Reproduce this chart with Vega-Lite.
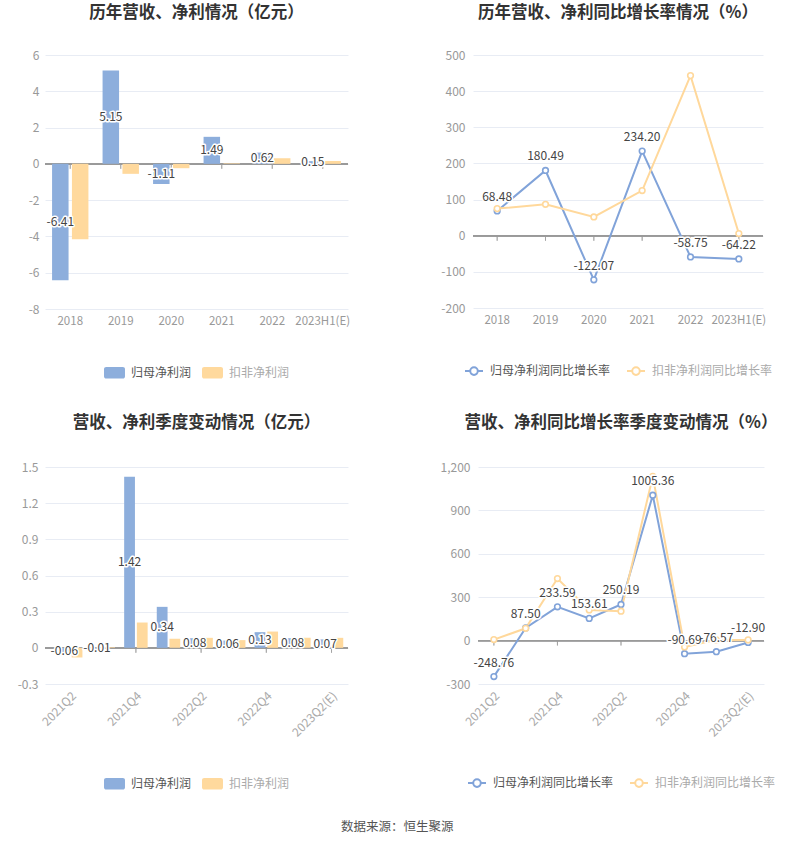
{
  "$schema": "https://vega.github.io/schema/vega-lite/v6.json",
  "background": "white",
  "padding": {"left": 17, "top": 4, "right": 5, "bottom": 8},
  "datasets": {
    "annual": [
      {"cat": "2018", "s": "归母净利润", "v": -6.41},
      {"cat": "2019", "s": "归母净利润", "v": 5.15},
      {"cat": "2020", "s": "归母净利润", "v": -1.11},
      {"cat": "2021", "s": "归母净利润", "v": 1.49},
      {"cat": "2022", "s": "归母净利润", "v": 0.62},
      {"cat": "2023H1(E)", "s": "归母净利润", "v": 0.15},
      {"cat": "2018", "s": "扣非净利润", "v": -4.16},
      {"cat": "2019", "s": "扣非净利润", "v": -0.55},
      {"cat": "2020", "s": "扣非净利润", "v": -0.24},
      {"cat": "2021", "s": "扣非净利润", "v": 0.03},
      {"cat": "2022", "s": "扣非净利润", "v": 0.31},
      {"cat": "2023H1(E)", "s": "扣非净利润", "v": 0.16}
    ],
    "annualGrowth": [
      {"cat": "2018", "s": "归母净利润同比增长率", "v": 68.48},
      {"cat": "2019", "s": "归母净利润同比增长率", "v": 180.49},
      {"cat": "2020", "s": "归母净利润同比增长率", "v": -122.07},
      {"cat": "2021", "s": "归母净利润同比增长率", "v": 234.2},
      {"cat": "2022", "s": "归母净利润同比增长率", "v": -58.75},
      {"cat": "2023H1(E)", "s": "归母净利润同比增长率", "v": -64.22},
      {"cat": "2018", "s": "扣非净利润同比增长率", "v": 75},
      {"cat": "2019", "s": "扣非净利润同比增长率", "v": 87},
      {"cat": "2020", "s": "扣非净利润同比增长率", "v": 52},
      {"cat": "2021", "s": "扣非净利润同比增长率", "v": 125},
      {"cat": "2022", "s": "扣非净利润同比增长率", "v": 443},
      {"cat": "2023H1(E)", "s": "扣非净利润同比增长率", "v": 6}
    ],
    "quarter": [
      {"cat": "2021Q2", "s": "归母净利润", "v": -0.06},
      {"cat": "2021Q3", "s": "归母净利润", "v": -0.01},
      {"cat": "2021Q4", "s": "归母净利润", "v": 1.42},
      {"cat": "2022Q1", "s": "归母净利润", "v": 0.34},
      {"cat": "2022Q2", "s": "归母净利润", "v": 0.08},
      {"cat": "2022Q3", "s": "归母净利润", "v": 0.06},
      {"cat": "2022Q4", "s": "归母净利润", "v": 0.13},
      {"cat": "2023Q1", "s": "归母净利润", "v": 0.08},
      {"cat": "2023Q2(E)", "s": "归母净利润", "v": 0.07},
      {"cat": "2021Q2", "s": "扣非净利润", "v": -0.08},
      {"cat": "2021Q3", "s": "扣非净利润", "v": 0.005},
      {"cat": "2021Q4", "s": "扣非净利润", "v": 0.21},
      {"cat": "2022Q1", "s": "扣非净利润", "v": 0.075},
      {"cat": "2022Q2", "s": "扣非净利润", "v": 0.083},
      {"cat": "2022Q3", "s": "扣非净利润", "v": 0.064},
      {"cat": "2022Q4", "s": "扣非净利润", "v": 0.135},
      {"cat": "2023Q1", "s": "扣非净利润", "v": 0.083},
      {"cat": "2023Q2(E)", "s": "扣非净利润", "v": 0.083}
    ],
    "quarterGrowth": [
      {"cat": "2021Q2", "s": "归母净利润同比增长率", "v": -248.76},
      {"cat": "2021Q3", "s": "归母净利润同比增长率", "v": 87.5},
      {"cat": "2021Q4", "s": "归母净利润同比增长率", "v": 233.59},
      {"cat": "2022Q1", "s": "归母净利润同比增长率", "v": 153.61},
      {"cat": "2022Q2", "s": "归母净利润同比增长率", "v": 250.19},
      {"cat": "2022Q3", "s": "归母净利润同比增长率", "v": 1005.36},
      {"cat": "2022Q4", "s": "归母净利润同比增长率", "v": -90.69},
      {"cat": "2023Q1", "s": "归母净利润同比增长率", "v": -76.57},
      {"cat": "2023Q2(E)", "s": "归母净利润同比增长率", "v": -12.9},
      {"cat": "2021Q2", "s": "扣非净利润同比增长率", "v": 7},
      {"cat": "2021Q3", "s": "扣非净利润同比增长率", "v": 85},
      {"cat": "2021Q4", "s": "扣非净利润同比增长率", "v": 429},
      {"cat": "2022Q1", "s": "扣非净利润同比增长率", "v": 212},
      {"cat": "2022Q2", "s": "扣非净利润同比增长率", "v": 203},
      {"cat": "2022Q3", "s": "扣非净利润同比增长率", "v": 1135},
      {"cat": "2022Q4", "s": "扣非净利润同比增长率", "v": -44},
      {"cat": "2023Q1", "s": "扣非净利润同比增长率", "v": 5},
      {"cat": "2023Q2(E)", "s": "扣非净利润同比增长率", "v": 5}
    ]
  },
  "title": {"text": "数据来源：恒生聚源", "orient": "bottom", "anchor": "middle", "frame": "bounds", "fontSize": 12.5, "fontWeight": "normal", "color": "#555", "offset": 30},
  "columns": 2,
  "align": "none",
  "spacing": {"row": 35, "column": 90},
  "concat": [
    {
      "width": 303, "height": 254,
      "title": {"text": "历年营收、净利情况（亿元）", "offset": 28},
      "data": {"name": "annual"},
      "layer": [
        {
          "encoding": {
            "x": {"field": "cat", "type": "nominal", "sort": null, "scale": {"domain": ["2018", "2019", "2020", "2021", "2022", "2023H1(E)"], "paddingInner": 0.28, "paddingOuter": 0.14}, "axis": {"labelAngle": 0, "grid": false, "domain": false, "ticks": false, "labelColor": "#999", "labelFontSize": 11.5, "labelPadding": 6, "title": null}},
            "y": {"field": "v", "type": "quantitative", "scale": {"domain": [-8, 6], "nice": false}, "axis": {"values": [-8, -6, -4, -2, 0, 2, 4, 6], "format": "d", "grid": true, "gridColor": "#E8ECF4", "domain": false, "ticks": false, "labelColor": "#999", "labelFontSize": 12, "labelPadding": 6, "title": null}}
          },
          "layer": [
            {"mark": {"type": "rule", "color": "#9a9a9a", "strokeWidth": 1}, "encoding": {"x": null, "y": {"datum": 0, "type": "quantitative", "scale": {"domain": [-8, 6], "nice": false}, "axis": {"values": [-8, -6, -4, -2, 0, 2, 4, 6], "format": "d", "grid": true, "gridColor": "#E8ECF4", "domain": false, "ticks": false, "labelColor": "#999", "labelFontSize": 12, "labelPadding": 6, "title": null}}}},
            {"mark": {"type": "tick", "orient": "vertical", "size": 5, "thickness": 1, "color": "#9a9a9a", "yOffset": 2.5},
             "encoding": {"y": {"datum": 0, "type": "quantitative", "scale": {"domain": [-8, 6], "nice": false}, "axis": {"values": [-8, -6, -4, -2, 0, 2, 4, 6], "format": "d", "grid": true, "gridColor": "#E8ECF4", "domain": false, "ticks": false, "labelColor": "#999", "labelFontSize": 12, "labelPadding": 6, "title": null}}}},
            {"mark": {"type": "bar"},
             "encoding": {
               "xOffset": {"field": "s", "type": "nominal", "sort": ["归母净利润", "扣非净利润"], "scale": {"paddingInner": 0.17}},
               "color": {"field": "s", "type": "nominal", "sort": ["归母净利润", "扣非净利润"], "scale": {"domain": ["归母净利润", "扣非净利润"], "range": ["#8DAEDC", "#FFD99D"]},
                 "legend": {"orient": "bottom", "direction": "horizontal", "title": null, "offset": 35, "symbolType": "M-0.8,-0.55H0.8A0.2,0.2 0 0 1 1,-0.35V0.35A0.2,0.2 0 0 1 0.8,0.55H-0.8A0.2,0.2 0 0 1 -1,0.35V-0.35A0.2,0.2 0 0 1 -0.8,-0.55Z", "symbolSize": 440, "symbolStrokeWidth": 0, "symbolOpacity": 1, "labelFontSize": 12, "labelOffset": 6, "columnPadding": 10,
                   "encode": {"labels": {"update": {"fill": {"signal": "datum.index === 0 ? '#555' : '#aaa'"}}}}}}
             }}
          ]
        },
        {"transform": [{"filter": "datum.s === '归母净利润'"}],
         "mark": {"type": "text", "fontSize": 12, "stroke": "white", "strokeWidth": 3, "strokeJoin": "round", "fill": "white"},
         "encoding": {"x": {"field": "cat", "type": "nominal", "sort": null}, "xOffset": {"field": "s", "type": "nominal", "sort": ["归母净利润", "扣非净利润"]},
           "y": {"field": "v", "type": "quantitative", "scale": {"domain": [-16, 12], "nice": false}, "axis": null}, "text": {"field": "v", "type": "quantitative", "format": ".2f"}}},
        {"transform": [{"filter": "datum.s === '归母净利润'"}],
         "mark": {"type": "text", "fontSize": 12, "color": "#444"},
         "encoding": {"x": {"field": "cat", "type": "nominal", "sort": null}, "xOffset": {"field": "s", "type": "nominal", "sort": ["归母净利润", "扣非净利润"]},
           "y": {"field": "v", "type": "quantitative", "scale": {"domain": [-16, 12], "nice": false}, "axis": null}, "text": {"field": "v", "type": "quantitative", "format": ".2f"}}}
      ],
      "resolve": {"scale": {"y": "independent"}, "axis": {"y": "independent"}}
    },
    {
      "width": 290, "height": 253,
      "title": {"text": "历年营收、净利同比增长率情况（%）", "offset": 28},
      "data": {"name": "annualGrowth"},
      "encoding": {
        "x": {"field": "cat", "type": "ordinal", "sort": null, "scale": {"domain": ["2018", "2019", "2020", "2021", "2022", "2023H1(E)"]}, "axis": {"labelAngle": 0, "grid": false, "domain": false, "ticks": false, "labelColor": "#999", "labelFontSize": 11.5, "labelPadding": 6, "title": null}},
        "y": {"field": "v", "type": "quantitative", "scale": {"domain": [-200, 500], "nice": false}, "axis": {"values": [-200, -100, 0, 100, 200, 300, 400, 500], "format": "d", "grid": true, "gridColor": "#E8ECF4", "domain": false, "ticks": false, "labelColor": "#999", "labelFontSize": 12, "labelPadding": 8, "title": null}}
      },
      "layer": [
        {"mark": {"type": "rule", "color": "#9a9a9a", "strokeWidth": 1}, "encoding": {"x": null, "y": {"datum": 0, "type": "quantitative", "scale": {"domain": [-200, 500], "nice": false}, "axis": {"values": [-200, -100, 0, 100, 200, 300, 400, 500], "format": "d", "grid": true, "gridColor": "#E8ECF4", "domain": false, "ticks": false, "labelColor": "#999", "labelFontSize": 12, "labelPadding": 8, "title": null}}}},
        {"mark": {"type": "tick", "orient": "vertical", "size": 5, "thickness": 1, "color": "#9a9a9a", "yOffset": 2.5}, "encoding": {"y": {"datum": 0, "type": "quantitative", "scale": {"domain": [-200, 500], "nice": false}, "axis": {"values": [-200, -100, 0, 100, 200, 300, 400, 500], "format": "d", "grid": true, "gridColor": "#E8ECF4", "domain": false, "ticks": false, "labelColor": "#999", "labelFontSize": 12, "labelPadding": 8, "title": null}}}},
        {"mark": {"type": "line", "strokeWidth": 2},
         "encoding": {
           "color": {"field": "s", "type": "nominal", "sort": ["归母净利润同比增长率", "扣非净利润同比增长率"], "scale": {"domain": ["归母净利润同比增长率", "扣非净利润同比增长率"], "range": ["#81A3D9", "#FFD89B"]},
             "legend": {"orient": "bottom", "direction": "horizontal", "title": null, "offset": 35, "symbolType": "M-1,0H-0.42M0.42,0H1M0.42,0A0.42,0.42 0 1 1 -0.42,0A0.42,0.42 0 1 1 0.42,0", "symbolSize": 324, "symbolStrokeWidth": 2, "symbolFillColor": "white", "labelFontSize": 12, "labelOffset": 6, "columnPadding": 12,
               "encode": {"labels": {"update": {"fill": {"signal": "datum.index === 0 ? '#555' : '#aaa'"}}}}}}
         }},
        {"mark": {"type": "point", "filled": true, "fill": "white", "size": 32, "strokeWidth": 1.6, "opacity": 1},
         "encoding": {"stroke": {"field": "s", "type": "nominal", "scale": {"domain": ["归母净利润同比增长率", "扣非净利润同比增长率"], "range": ["#81A3D9", "#FFD89B"]}, "legend": null}}},
        {"transform": [{"filter": "datum.s === '归母净利润同比增长率'"}],
         "mark": {"type": "text", "fontSize": 12, "dy": -14, "stroke": "white", "strokeWidth": 3, "strokeJoin": "round", "fill": "white"},
         "encoding": {"text": {"field": "v", "type": "quantitative", "format": ".2f"}}},
        {"transform": [{"filter": "datum.s === '归母净利润同比增长率'"}],
         "mark": {"type": "text", "fontSize": 12, "dy": -14, "color": "#444"},
         "encoding": {"text": {"field": "v", "type": "quantitative", "format": ".2f"}}}
      ]
    },
    {
      "width": 303, "height": 217,
      "title": {"text": "营收、净利季度变动情况（亿元）", "offset": 30},
      "data": {"name": "quarter"},
      "layer": [
        {
          "encoding": {
            "x": {"field": "cat", "type": "nominal", "sort": null, "scale": {"domain": ["2021Q2", "2021Q3", "2021Q4", "2022Q1", "2022Q2", "2022Q3", "2022Q4", "2023Q1", "2023Q2(E)"], "paddingInner": 0.28, "paddingOuter": 0.287, "align": 0.746}, "axis": {"labelAngle": -45, "values": ["2021Q2", "2021Q4", "2022Q2", "2022Q4", "2023Q2(E)"], "grid": false, "domain": false, "ticks": false, "labelColor": "#aaa", "labelFontSize": 12, "labelPadding": 6, "title": null}},
            "y": {"field": "v", "type": "quantitative", "scale": {"domain": [-0.3, 1.5], "nice": false}, "axis": {"values": [-0.3, 0, 0.3, 0.6, 0.9, 1.2, 1.5], "format": "~g", "grid": true, "gridColor": "#E8ECF4", "domain": false, "ticks": false, "labelColor": "#999", "labelFontSize": 12, "labelPadding": 7, "title": null}}
          },
          "layer": [
            {"mark": {"type": "rule", "color": "#9a9a9a", "strokeWidth": 1}, "encoding": {"x": null, "y": {"datum": 0, "type": "quantitative", "scale": {"domain": [-0.3, 1.5], "nice": false}, "axis": {"values": [-0.3, 0, 0.3, 0.6, 0.9, 1.2, 1.5], "format": "~g", "grid": true, "gridColor": "#E8ECF4", "domain": false, "ticks": false, "labelColor": "#999", "labelFontSize": 12, "labelPadding": 7, "title": null}}}},
            {"transform": [{"filter": "indexof(['2021Q2','2021Q4','2022Q2','2022Q4','2023Q2(E)'], datum.cat) >= 0"}],
             "mark": {"type": "tick", "orient": "vertical", "size": 5, "thickness": 1, "color": "#9a9a9a", "yOffset": 2.5},
             "encoding": {"y": {"datum": 0, "type": "quantitative", "scale": {"domain": [-0.3, 1.5], "nice": false}, "axis": {"values": [-0.3, 0, 0.3, 0.6, 0.9, 1.2, 1.5], "format": "~g", "grid": true, "gridColor": "#E8ECF4", "domain": false, "ticks": false, "labelColor": "#999", "labelFontSize": 12, "labelPadding": 7, "title": null}}}},
            {"mark": {"type": "bar"},
             "encoding": {
               "xOffset": {"field": "s", "type": "nominal", "sort": ["归母净利润", "扣非净利润"], "scale": {"paddingInner": 0.15}},
               "color": {"field": "s", "type": "nominal", "sort": ["归母净利润", "扣非净利润"], "scale": {"domain": ["归母净利润", "扣非净利润"], "range": ["#8DAEDC", "#FFD99D"]},
                 "legend": {"orient": "bottom", "direction": "horizontal", "title": null, "offset": 34, "symbolType": "M-0.8,-0.55H0.8A0.2,0.2 0 0 1 1,-0.35V0.35A0.2,0.2 0 0 1 0.8,0.55H-0.8A0.2,0.2 0 0 1 -1,0.35V-0.35A0.2,0.2 0 0 1 -0.8,-0.55Z", "symbolSize": 440, "symbolStrokeWidth": 0, "symbolOpacity": 1, "labelFontSize": 12, "labelOffset": 6, "columnPadding": 10,
                   "encode": {"labels": {"update": {"fill": {"signal": "datum.index === 0 ? '#555' : '#aaa'"}}}}}}
             }}
          ]
        },
        {"transform": [{"filter": "datum.s === '归母净利润'"}],
         "mark": {"type": "text", "fontSize": 12, "stroke": "white", "strokeWidth": 3, "strokeJoin": "round", "fill": "white"},
         "encoding": {"x": {"field": "cat", "type": "nominal", "sort": null}, "xOffset": {"field": "s", "type": "nominal", "sort": ["归母净利润", "扣非净利润"]},
           "y": {"field": "v", "type": "quantitative", "scale": {"domain": [-0.6, 3], "nice": false}, "axis": null}, "text": {"field": "v", "type": "quantitative", "format": ".2f"}}},
        {"transform": [{"filter": "datum.s === '归母净利润'"}],
         "mark": {"type": "text", "fontSize": 12, "color": "#444"},
         "encoding": {"x": {"field": "cat", "type": "nominal", "sort": null}, "xOffset": {"field": "s", "type": "nominal", "sort": ["归母净利润", "扣非净利润"]},
           "y": {"field": "v", "type": "quantitative", "scale": {"domain": [-0.6, 3], "nice": false}, "axis": null}, "text": {"field": "v", "type": "quantitative", "format": ".2f"}}}
      ],
      "resolve": {"scale": {"y": "independent"}, "axis": {"y": "independent"}}
    },
    {
      "width": 286, "height": 217,
      "title": {"text": "营收、净利同比增长率季度变动情况（%）", "offset": 30},
      "data": {"name": "quarterGrowth"},
      "encoding": {
        "x": {"field": "cat", "type": "ordinal", "sort": null, "scale": {"domain": ["2021Q2", "2021Q3", "2021Q4", "2022Q1", "2022Q2", "2022Q3", "2022Q4", "2023Q1", "2023Q2(E)"]}, "axis": {"labelAngle": -45, "values": ["2021Q2", "2021Q4", "2022Q2", "2022Q4", "2023Q2(E)"], "grid": false, "domain": false, "ticks": false, "labelColor": "#aaa", "labelFontSize": 12, "labelPadding": 6, "title": null}},
        "y": {"field": "v", "type": "quantitative", "scale": {"domain": [-300, 1200], "nice": false}, "axis": {"values": [-300, 0, 300, 600, 900, 1200], "format": ",d", "grid": true, "gridColor": "#E8ECF4", "domain": false, "ticks": false, "labelColor": "#999", "labelFontSize": 12, "labelPadding": 8, "title": null}}
      },
      "layer": [
        {"mark": {"type": "rule", "color": "#9a9a9a", "strokeWidth": 1}, "encoding": {"x": null, "y": {"datum": 0, "type": "quantitative", "scale": {"domain": [-300, 1200], "nice": false}, "axis": {"values": [-300, 0, 300, 600, 900, 1200], "format": ",d", "grid": true, "gridColor": "#E8ECF4", "domain": false, "ticks": false, "labelColor": "#999", "labelFontSize": 12, "labelPadding": 8, "title": null}}}},
        {"transform": [{"filter": "indexof(['2021Q2','2021Q4','2022Q2','2022Q4','2023Q2(E)'], datum.cat) >= 0"}],
         "mark": {"type": "tick", "orient": "vertical", "size": 5, "thickness": 1, "color": "#9a9a9a", "yOffset": 2.5}, "encoding": {"y": {"datum": 0, "type": "quantitative", "scale": {"domain": [-300, 1200], "nice": false}, "axis": {"values": [-300, 0, 300, 600, 900, 1200], "format": ",d", "grid": true, "gridColor": "#E8ECF4", "domain": false, "ticks": false, "labelColor": "#999", "labelFontSize": 12, "labelPadding": 8, "title": null}}}},
        {"mark": {"type": "line", "strokeWidth": 2},
         "encoding": {
           "color": {"field": "s", "type": "nominal", "sort": ["归母净利润同比增长率", "扣非净利润同比增长率"], "scale": {"domain": ["归母净利润同比增长率", "扣非净利润同比增长率"], "range": ["#81A3D9", "#FFD89B"]},
             "legend": {"orient": "bottom", "direction": "horizontal", "title": null, "offset": 34, "symbolType": "M-1,0H-0.42M0.42,0H1M0.42,0A0.42,0.42 0 1 1 -0.42,0A0.42,0.42 0 1 1 0.42,0", "symbolSize": 324, "symbolStrokeWidth": 2, "symbolFillColor": "white", "labelFontSize": 12, "labelOffset": 6, "columnPadding": 12,
               "encode": {"labels": {"update": {"fill": {"signal": "datum.index === 0 ? '#555' : '#aaa'"}}}}}}
         }},
        {"mark": {"type": "point", "filled": true, "fill": "white", "size": 32, "strokeWidth": 1.6, "opacity": 1},
         "encoding": {"stroke": {"field": "s", "type": "nominal", "scale": {"domain": ["归母净利润同比增长率", "扣非净利润同比增长率"], "range": ["#81A3D9", "#FFD89B"]}, "legend": null}}},
        {"transform": [{"filter": "datum.s === '归母净利润同比增长率'"}],
         "mark": {"type": "text", "fontSize": 12, "dy": -14, "stroke": "white", "strokeWidth": 3, "strokeJoin": "round", "fill": "white"},
         "encoding": {"text": {"field": "v", "type": "quantitative", "format": ".2f"}}},
        {"transform": [{"filter": "datum.s === '归母净利润同比增长率'"}],
         "mark": {"type": "text", "fontSize": 12, "dy": -14, "color": "#444"},
         "encoding": {"text": {"field": "v", "type": "quantitative", "format": ".2f"}}}
      ]
    }
  ],
  "resolve": {"scale": {"x": "independent", "y": "independent", "xOffset": "independent", "color": "independent", "stroke": "independent"}, "legend": {"color": "independent"}},
  "config": {
    "font": "Noto Sans CJK SC",
    "view": {"stroke": null},
    "locale": {"number": {"decimal": ".", "thousands": ",", "grouping": [3], "currency": ["", ""], "minus": "-"}},
    "title": {"fontSize": 16.5, "fontWeight": "bold", "color": "#333", "anchor": "middle", "frame": "group"},
    "legend": {"layout": {"bottom": {"anchor": "middle"}}}
  }
}
